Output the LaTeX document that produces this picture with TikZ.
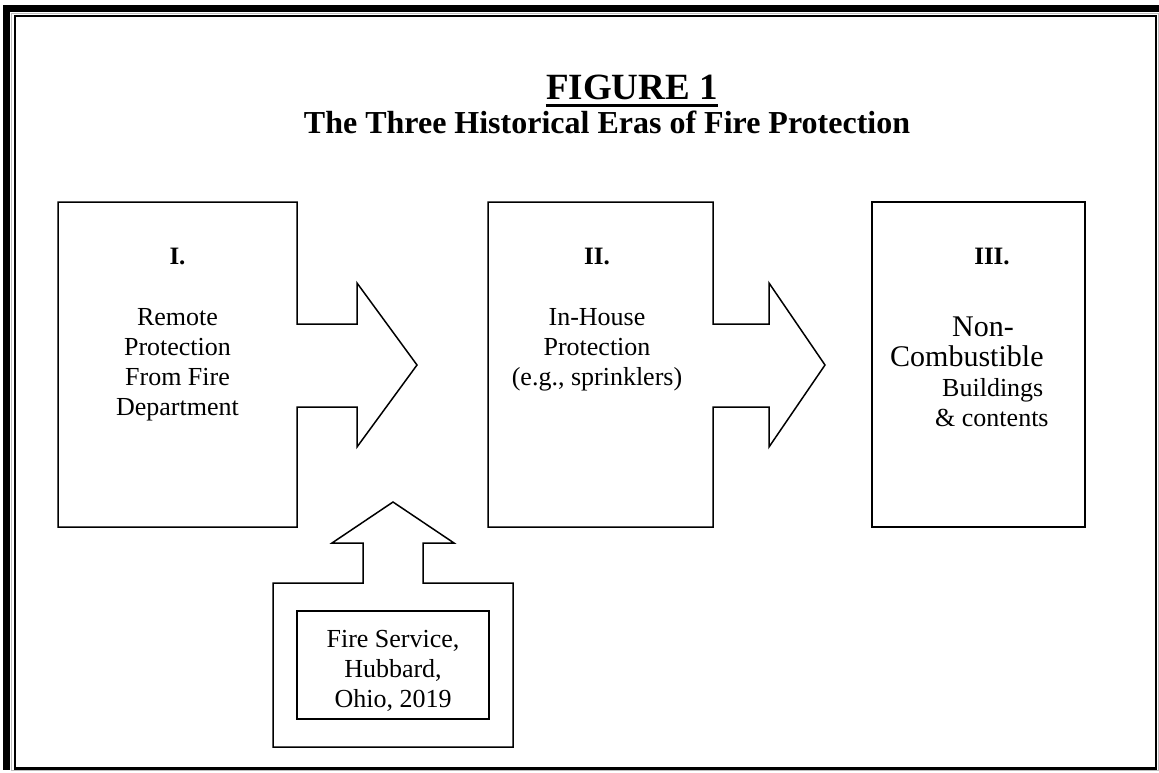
\documentclass[tikz,border=0pt]{standalone}
\usepackage{fontspec}
\setmainfont{Liberation Serif}
\newcommand{\boxfont}{\fontsize{26}{30}\selectfont}
\newcommand{\bigboxfont}{\fontsize{30}{34}\selectfont}
\newcommand{\erafont}{\fontsize{25}{30}\selectfont\bfseries}
\begin{document}
\begin{tikzpicture}[x=1pt,y=-1pt,inner sep=0pt,outline/.style={line width=1.5pt,line join=miter}]
		\useasboundingbox (0,0) rectangle (1159,773);
		% frame
		\fill (3,5) rectangle (1159,12);
		\fill (3,5) rectangle (10,770);
		\draw[gray!50, line width=1.2pt] (11.6,13.4) rectangle (1158.2,770.6);
		\draw[line width=2.2pt] (14.6,16.1) rectangle (1155.6,768.5);
		% heading
		\node[anchor=base, font=\fontsize{37}{40}\selectfont\bfseries] (title) at (632,100) {FIGURE 1};
		\draw[line width=3.5pt] ([yshift=-5.5pt]title.base west) -- ([yshift=-5.5pt]title.base east);
		\node[anchor=base, font=\fontsize{32}{36}\selectfont\bfseries] (subtitle) at (607,134) {The Three Historical Eras of Fire Protection};
		% eras with arrows
		\draw[outline] (58,202) -- (297,202) -- (297,324) -- (357,324) -- (357,283) -- (417,365) -- (357,447) -- (357,407) -- (297,407) -- (297,527) -- (58,527) -- cycle;
		\draw[outline] (488,202) -- (713,202) -- (713,324) -- (769,324) -- (769,283) -- (825,365) -- (769,447) -- (769,407) -- (713,407) -- (713,527) -- (488,527) -- cycle;
		\draw[outline] (872,202) rectangle (1085,527);
		% source box with up arrow
		\draw[outline] (273,583) -- (363,583) -- (363,543) -- (332,543) -- (393,502) -- (454,543) -- (423,543) -- (423,583) -- (513,583) -- (513,747) -- (273,747) -- cycle;
		\draw[outline] (297,611) rectangle (489,719);
		% texts
		\node[anchor=base, font=\erafont] (era1) at (177.5,264) {I.};
		\node[anchor=base, font=\erafont] (era2) at (597,264) {II.};
		\node[anchor=base, font=\erafont] (era3) at (992,264) {III.};
		\foreach \t [count=\i] in {Remote, Protection, From Fire, Department}
			\node[anchor=base, font=\boxfont] (one\i) at (177.5, 295+30*\i) {\t};
		\foreach \t [count=\i] in {In-House, Protection, {(e.g., sprinklers)}}
			\node[anchor=base, font=\boxfont] (two\i) at (597, 295+30*\i) {\t};
		\node[anchor=base west, font=\bigboxfont] (three1) at (952,336) {Non-};
		\node[anchor=base west, font=\bigboxfont] (three2) at (890,366) {Combustible};
		\node[anchor=base west, font=\boxfont] (three3) at (942,396) {Buildings};
		\node[anchor=base west, font=\boxfont] (three4) at (935,426) {\& contents};
		\foreach \t [count=\i] in {{Fire Service,}, {Hubbard,}, {Ohio, 2019}}
			\node[anchor=base, font=\boxfont] (src\i) at (393, 617+30*\i) {\t};
	\end{tikzpicture}
\end{document}
